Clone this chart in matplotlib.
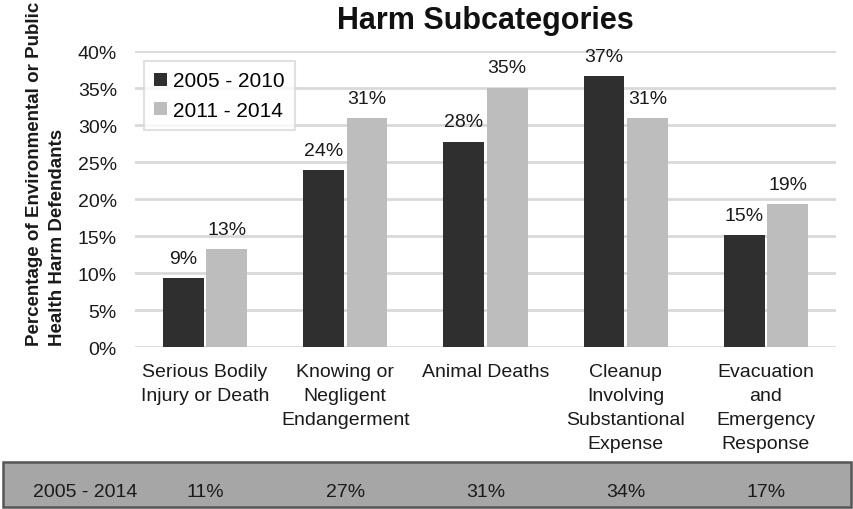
import matplotlib
matplotlib.use("Agg")
import matplotlib.pyplot as plt
from matplotlib.patches import Rectangle
import matplotlib.transforms as mtransforms
import numpy as np

plt.rcParams['font.family'] = ['Liberation Sans', 'DejaVu Sans']

# harm subcategories and share of defendants per period (percent)
categories = ["Serious Bodily\nInjury or Death",
              "Knowing or\nNegligent\nEndangerment",
              "Animal Deaths",
              "Cleanup\nInvolving\nSubstantional\nExpense",
              "Evacuation\nand\nEmergency\nResponse"]
series_names = ["2005 - 2010", "2011 - 2014"]
early = [9.4, 24.0, 27.8, 36.6, 15.2]
late = [13.3, 31.0, 35.1, 31.0, 19.4]
overall_label = "2005 - 2014"
overall = [11, 27, 31, 34, 17]

dark = "#2f2f2f"
light = "#bdbdbd"
grid = "#d9d9d9"
ink = "#1a1a1a"

fig = plt.figure(figsize=(8.54, 5.10), dpi=100)
ax = fig.add_axes([0.158, 0.317, 0.821, 0.5805])

x = np.arange(len(categories))
w = 0.29
gap = 0.01
b1 = ax.bar(x - w / 2 - gap, early, w, color=dark, label=series_names[0], zorder=3)
b2 = ax.bar(x + w / 2 + gap, late, w, color=light, label=series_names[1], zorder=3)

for bars, vals in ((b1, early), (b2, late)):
    for rect, v in zip(bars, vals):
        ax.annotate("%d%%" % round(v), (rect.get_x() + rect.get_width() / 2, v),
                    xytext=(0, 8), textcoords="offset points",
                    ha="center", va="bottom", fontsize=14, color=ink)

ax.set_xlim(-0.5, len(categories) - 0.5)
ax.set_ylim(0, 40)
ax.set_yticks(np.arange(0, 41, 5))
ax.set_yticklabels(["%d%%" % t for t in range(0, 41, 5)])
ax.set_xticks(x)
ax.set_xticklabels(categories, linespacing=1.52)
ax.tick_params(axis="both", length=0, labelsize=14, colors=ink)
ax.tick_params(axis="x", pad=11.5)
ax.tick_params(axis="y", pad=13)
ax.yaxis.grid(True, color=grid, linewidth=2, zorder=0)
for s in ax.spines.values():
    s.set_visible(False)

ax.set_title("Harm Subcategories", fontsize=22, fontweight="bold", pad=17, color="#111111")
fig.text(0.054, 1 - 174 / 510, "Percentage of Environmental or Public\nHealth Harm Defendants",
         rotation=90, ha="center", va="center", multialignment="left",
         fontsize=13.5, fontweight="bold", linespacing=1.42, color=ink)

leg = ax.legend(loc="upper left", bbox_to_anchor=(0.013, 0.967), fontsize=15,
                frameon=True, fancybox=False, edgecolor=grid, handlelength=0.6,
                handleheight=0.6, handletextpad=0.3, borderpad=0.5, labelspacing=0.5,
                borderaxespad=0)
leg.get_frame().set_linewidth(1.5)

# summary band across the bottom
fig.patches.append(Rectangle((3 / 854, 1 - 508 / 510), 848 / 854, 45 / 510,
                             transform=fig.transFigure, facecolor="#a6a6a6",
                             edgecolor="#555555", linewidth=1.8, zorder=-1))
fig.text(85 / 854, 1 - 493 / 510, overall_label, ha="center", va="center",
         fontsize=14, color=ink)
band = mtransforms.blended_transform_factory(ax.transData, fig.transFigure)
for i, v in enumerate(overall):
    ax.text(i, 1 - 493 / 510, "%d%%" % v, transform=band, ha="center", va="center",
            fontsize=14, color=ink, clip_on=False)

fig.savefig("out.png", dpi=100)
